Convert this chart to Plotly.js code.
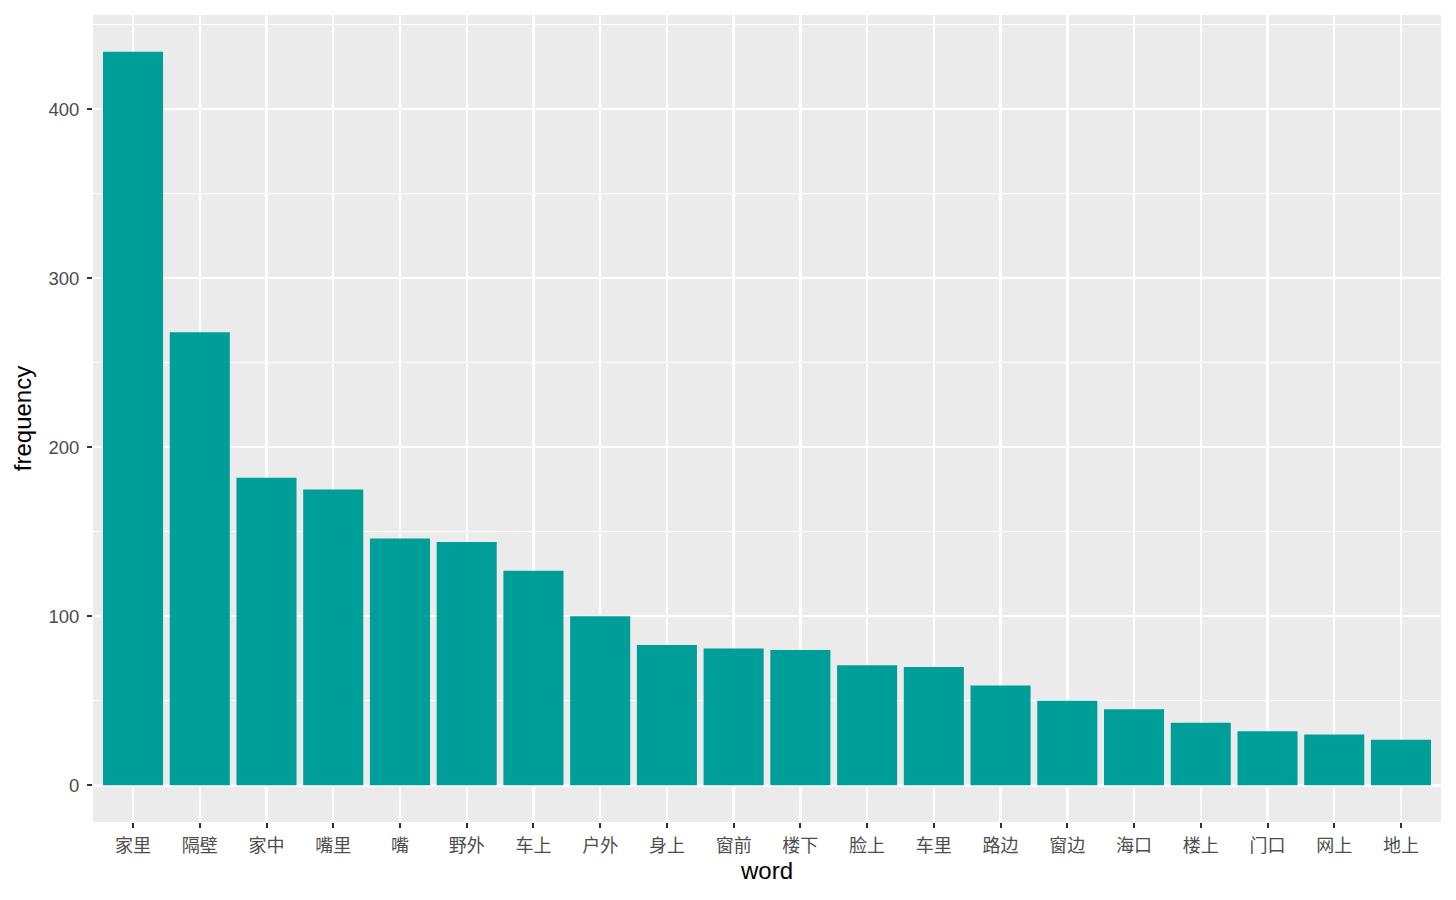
<!DOCTYPE html>
<html>
<head>
<meta charset="utf-8">
<script src="https://cdn.plot.ly/plotly-3.0.1.min.js"></script>
<style>
  html, body { margin: 0; padding: 0; background: #fff; }
  #chart { width: 1456px; height: 900px; }
</style>
</head>
<body>
<div id="chart"></div>
<script>
// word frequencies, sorted as in the original plot
var words = ['家里', '隔壁', '家中', '嘴里', '嘴', '野外', '车上', '户外', '身上', '窗前',
             '楼下', '脸上', '车里', '路边', '窗边', '海口', '楼上', '门口', '网上', '地上'];
var freq = [434, 268, 182, 175, 146, 144, 127, 100, 83, 81,
            80, 71, 70, 59, 50, 45, 37, 32, 30, 27];
var yTicks = [0, 100, 200, 300, 400];

var fontFamily = 'Liberation Sans, Arial, Noto Sans CJK SC, sans-serif';

var data = [{
    type: 'bar',
    x: words,
    y: freq,
    marker: {color: '#009E99', line: {width: 0}},
    hoverinfo: 'x+y'
}];

var layout = {
    width: 1456,
    height: 900,
    margin: {l: 93, r: 15, t: 15, b: 78},
    paper_bgcolor: '#FFFFFF',
    plot_bgcolor: '#EBEBEB',
    bargap: 0.1,
    showlegend: false,
    font: {family: fontFamily, color: '#4D4D4D', size: 18},
    xaxis: {
        type: 'category',
        range: [-0.6, words.length - 0.4],
        showgrid: true,
        gridcolor: '#FFFFFF',
        gridwidth: 2.4,
        zeroline: false,
        showline: false,
        ticks: 'outside',
        ticklen: 5,
        tickwidth: 2,
        tickcolor: '#333333',
        ticklabelstandoff: 2,
        tickfont: {family: fontFamily, size: 18, color: '#4D4D4D'},
        title: {text: 'word', font: {family: fontFamily, size: 24, color: '#000000'}, standoff: 7},
        automargin: false,
        fixedrange: true
    },
    yaxis: {
        range: [-21.7, 455.7],
        tickvals: yTicks,
        ticktext: yTicks.map(String),
        showgrid: true,
        gridcolor: '#FFFFFF',
        gridwidth: 2.4,
        minor: {dtick: 50, tick0: 0, showgrid: true, gridcolor: '#FFFFFF', gridwidth: 1.2, ticks: ''},
        zeroline: false,
        showline: false,
        ticks: 'outside',
        ticklen: 5,
        tickwidth: 2,
        tickcolor: '#333333',
        ticklabelstandoff: 4,
        tickfont: {family: fontFamily, size: 18.5, color: '#4D4D4D'},
        title: {text: 'frequency', font: {family: fontFamily, size: 24, color: '#000000'}, standoff: 10},
        automargin: false,
        fixedrange: true
    }
};

Plotly.newPlot('chart', data, layout, {displayModeBar: false, staticPlot: true});
</script>
</body>
</html>
